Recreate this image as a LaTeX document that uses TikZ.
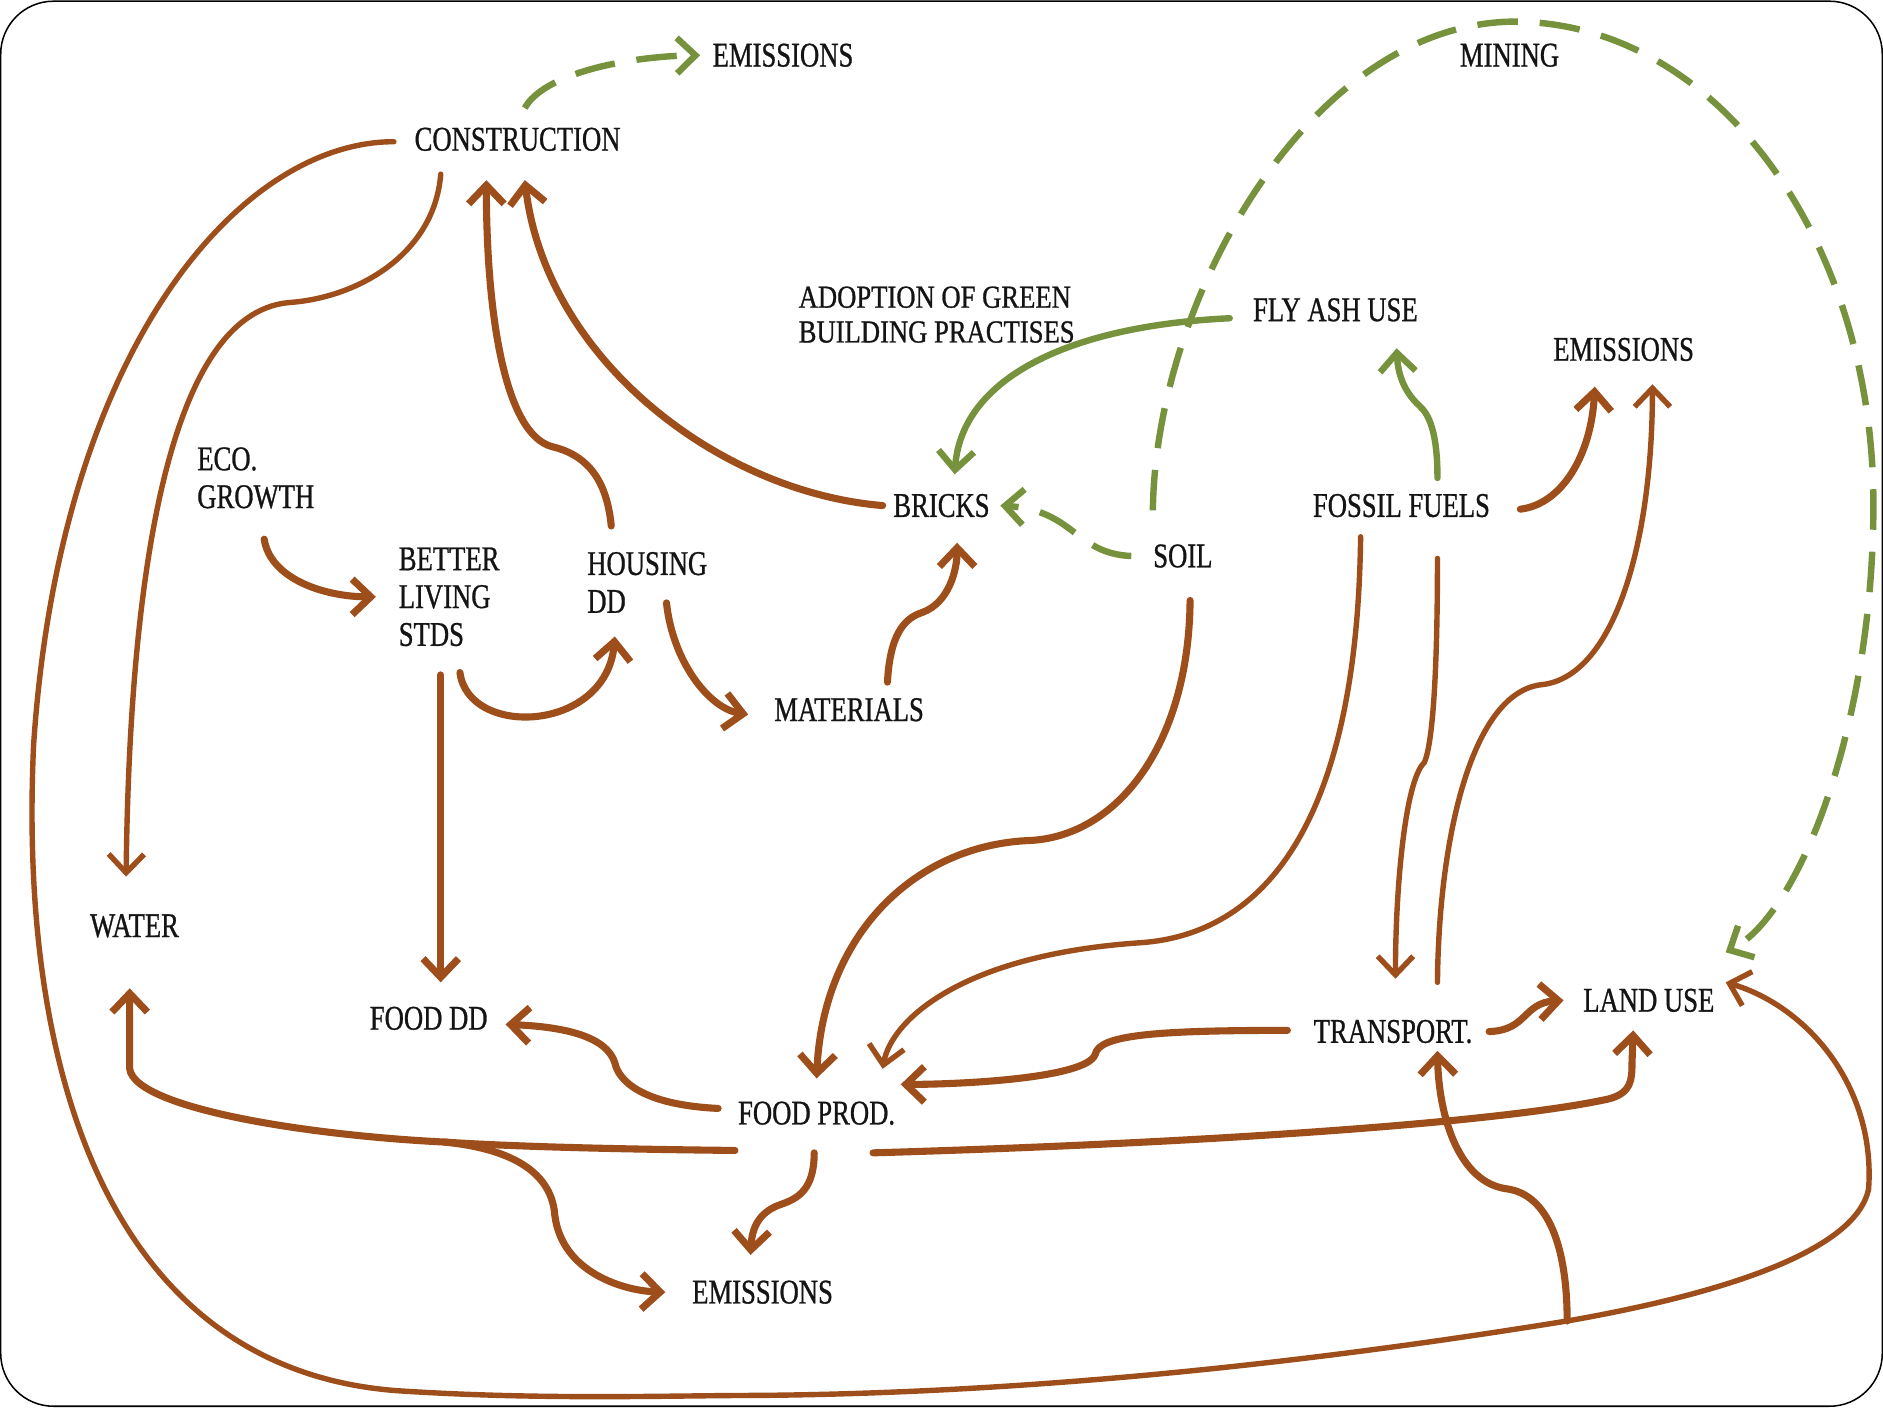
\documentclass[tikz,border=0pt]{standalone}
\usepackage{fontspec}
\setmainfont{Liberation Serif}[FakeStretch=0.77,FakeBold=0.8]
\newfontfamily\adoptfont{Liberation Serif}[FakeStretch=0.83,FakeBold=0.8]
\usetikzlibrary{arrows.meta,calc}
\definecolor{brn}{RGB}{158,78,26}
\definecolor{grn}{RGB}{118,146,60}
\definecolor{txt}{RGB}{20,20,20}
\begin{document}
\begin{tikzpicture}[x=0.025cm,y=-0.025cm,
  lbl/.style={inner sep=0pt, text=txt, font=\fontsize{20.5}{22.4}\selectfont, align=left},
  bline/.style={draw=brn, line width=4.2pt, line cap=round},
  bthin/.style={line width=3.2pt},
  gline/.style={draw=grn, line width=3.8pt, line cap=round},
  gdash/.style={gline, line cap=butt, dash pattern=on 24pt off 13pt},
  arr/.style={-{Straight Barb[length=11pt,width=21pt]}},
]
\useasboundingbox (0,0) rectangle (1568,1175);
\fill[white] (0,0) rectangle (1568,1175);
\draw[black, line width=0.9pt, rounded corners=1.1cm] (0.6,1) rectangle (1567.4,1171);

% nodes
\node[lbl] (emtop) at (652,46) {EMISSIONS};
\node[lbl] (mining) at (1257,46) {MINING};
\node[lbl] (constr) at (431,116) {CONSTRUCTION};
\node[lbl, font=\adoptfont\fontsize{19}{20.6}\selectfont] (adopt) at (780,262) {ADOPTION OF GREEN\\BUILDING PRACTISES};
\node[lbl] (flyash) at (1112,258) {FLY ASH USE};
\node[lbl] (emright) at (1352,291) {EMISSIONS};
\node[lbl] (eco) at (213,398) {ECO.\\GROWTH};
\node[lbl] (better) at (374,497) {BETTER\\LIVING\\STDS};
\node[lbl] (housing) at (539,485) {HOUSING\\DD};
\node[lbl] (bricks) at (784,421) {BRICKS};
\node[lbl] (soil) at (985,463) {SOIL};
\node[lbl] (fossil) at (1167,421) {FOSSIL FUELS};
\node[lbl] (mater) at (707,591) {MATERIALS};
\node[lbl] (water) at (112,771) {WATER};
\node[lbl] (fooddd) at (357,848) {FOOD DD};
\node[lbl] (foodprod) at (680,927) {FOOD PROD.};
\node[lbl] (transp) at (1160,859) {TRANSPORT.};
\node[lbl] (landuse) at (1373,833) {LAND USE};
\node[lbl] (embot) at (635,1076) {EMISSIONS};

\coordinate (br1) at (370,951);
\coordinate (br2) at (1305,1100);

% green connectors
\draw[gdash, arr] ($(constr)+(6,-26)$) .. controls (452,62) and (520,47) .. ($(emtop)+(-69,0)$);
\draw[gline, arr] ($(flyash)+(-88,7)$) .. controls (880,272) and (800,320) .. ($(bricks)+(11,-26)$);
\draw[gdash, arr] ($(soil)+(-43,0)$) .. controls (895,461) and (895,425) .. ($(bricks)+(49,0)$);
\draw[gdash, arr] ($(soil)+(-25,-38)$) .. controls (962,250) and (1090,20) .. (1260,18) .. controls (1430,18) and (1560,200) .. (1560,420) .. controls (1560,600) and (1500,760) .. ($(landuse)+(64,-40)$);
\draw[gline, arr] ($(fossil)+(30,-23)$) .. controls (1197,360) and (1190,345) .. (1182,338) .. controls (1168,325) and (1164,310) .. ($(flyash)+(51,32)$);

% brown connectors
\draw[bline, bthin, arr] ($(constr)+(-103,2)$) .. controls (200,118) and (50,290) .. (28,620) .. controls (15,900) and (95,1140) .. (330,1158) .. controls (450,1166) and (560,1162) .. (628,1162) .. controls (900,1160) and (1150,1125) .. (br2) .. controls (1420,1080) and (1545,1045) .. (1556,990) .. controls (1562,905) and (1505,838) .. ($(landuse)+(64,-15)$);
\draw[bline, bthin, arr] ($(constr)+(-64,29)$) .. controls (362,210) and (300,248) .. (240,252) .. controls (140,262) and (108,480) .. ($(water)+(-7,-41)$);
\draw[bline, arr] ($(housing)+(-30,-47)$) .. controls (505,395) and (485,378) .. (460,372) .. controls (420,362) and (405,260) .. ($(constr)+(-26,34)$);
\draw[bline, arr] ($(bricks)+(-49,0)$) .. controls (600,410) and (455,300) .. ($(constr)+(6,34)$);
\draw[bline, arr] ($(eco)+(7,51)$) .. controls (225,482) and (270,497) .. ($(better)+(-61,0)$);
\draw[bline, arr] ($(better)+(9,63)$) .. controls (390,615) and (505,610) .. ($(housing)+(-27,45)$);
\draw[bline, arr] ($(better)+(-7,65)$) -- ($(fooddd)+(10,-30)$);
\draw[bline, arr] ($(housing)+(16,17)$) .. controls (560,550) and (590,590) .. ($(mater)+(-84,4)$);
\draw[bline, arr] ($(mater)+(32,-23)$) .. controls (741,530) and (752,515) .. (768,510) .. controls (790,502) and (797,475) .. ($(bricks)+(13,31)$);
\draw[bline, arr] ($(fossil)+(99,3)$) .. controls (1300,420) and (1325,380) .. ($(emright)+(-24,31)$);
\draw[bline, bthin, arr] ($(transp)+(37,-41)$) .. controls (1198,700) and (1225,575) .. (1285,570) .. controls (1345,562) and (1376,450) .. ($(emright)+(24,29)$);
\draw[bline, bthin, arr] ($(fossil)+(30,44)$) .. controls (1197,560) and (1193,620) .. (1186,635) .. controls (1170,650) and (1162,740) .. ($(transp)+(2,-44)$);
\draw[bline, bthin, arr] ($(fossil)+(-34,26)$) .. controls (1130,690) and (1050,778) .. (950,785) .. controls (800,795) and (742,850) .. ($(foodprod)+(55,-37)$);
\draw[bline, arr] ($(soil)+(6,37)$) .. controls (990,620) and (930,698) .. (855,700) .. controls (760,705) and (685,780) .. ($(foodprod)+(0,-29)$);
\draw[bline, arr] ($(transp)+(-88,-1)$) .. controls (960,858) and (915,862) .. (912,878) .. controls (905,898) and (800,903) .. ($(foodprod)+(70,-24)$);
\draw[bline, arr] ($(transp)+(80,0)$) .. controls (1272,858) and (1268,835) .. ($(landuse)+(-71,0)$);
\draw[bline, arr] ($(foodprod)+(-82,-4)$) .. controls (535,920) and (515,900) .. (512,885) .. controls (505,863) and (470,855) .. ($(fooddd)+(64,5)$);
\draw[bline, arr] ($(foodprod)+(-68,31)$) .. controls (520,957) and (430,955) .. (br1) .. controls (250,945) and (112,922) .. (108,890) -- ($(water)+(-4,52)$);
\draw[bline, arr] (br1) .. controls (440,958) and (460,985) .. (462,1012) .. controls (468,1060) and (520,1075) .. ($(embot)+(-81,0)$);
\draw[bline, arr] ($(foodprod)+(-2,33)$) .. controls (678,990) and (665,998) .. (650,1003) .. controls (630,1010) and (626,1025) .. ($(embot)+(-10,-31)$);
\draw[bline, arr] ($(foodprod)+(47,33)$) .. controls (1000,952) and (1250,935) .. (1340,915) .. controls (1358,910) and (1359,900) .. (1359,885) -- ($(landuse)+(-13,25)$);
\draw[bline, arr] (br2) .. controls (1305,1040) and (1290,995) .. (1255,990) .. controls (1215,985) and (1198,930) .. ($(transp)+(37,16)$);
\end{tikzpicture}
\end{document}
